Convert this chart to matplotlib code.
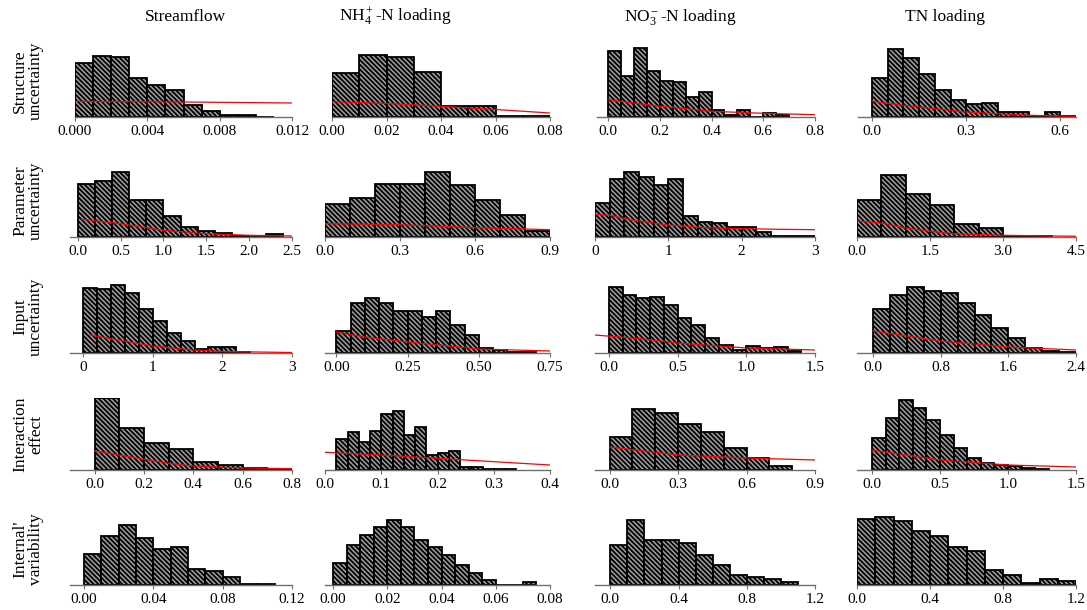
import numpy as np
import matplotlib.pyplot as plt

plt.rcParams['font.family'] = 'Liberation Serif'
plt.rcParams['mathtext.fontset'] = 'custom'
plt.rcParams['mathtext.rm'] = 'Liberation Serif'
plt.rcParams['mathtext.it'] = 'Liberation Serif:italic'
plt.rcParams['mathtext.default'] = 'regular'
plt.rcParams['hatch.linewidth'] = 1.3

col_titles = ['Streamflow', 'NH$_4^+$-N loading', 'NO$_3^-$-N loading', 'TN loading']
row_labels = ['Structure\nuncertainty', 'Parameter\nuncertainty', 'Input\nuncertainty',
              'Interaction\neffect', "Internal'\nvariability"]

# histogram heights (relative frequency), first bin edge and bin width
# row 1: structure uncertainty
sf_struct = [54, 61, 60, 39, 32, 27, 12, 6, 2, 2, 0.4]
nh_struct = [44, 62, 60, 45, 11, 11, 1.3, 0.7]
no_struct = [66, 41, 69, 46, 36, 35, 20, 25, 7, 2.3, 7, 0, 4.3, 1.7]
tn_struct = [39, 68, 59, 43, 27, 17, 13, 14, 5, 5, 0.7, 5, 1.3]
# row 2: parameter uncertainty
sf_param = [53, 56, 65, 37, 37, 21, 10, 6.3, 4.3, 1, 0, 3]
nh_param = [33, 39, 53, 53, 65, 52, 37, 22, 6]
no_param = [34, 58, 65, 60, 52, 58, 21, 15, 14, 10, 10, 5.3, 1.5, 1.5, 1.5]
tn_param = [37, 62, 43, 32, 13, 9, 0.7, 0.7]
# row 3: input uncertainty
sf_input = [65, 64, 68, 60, 44, 32, 20, 12, 4, 6, 6, 1]
nh_input = [22, 50, 55, 50, 42, 42, 36, 42, 28, 18, 5, 3, 1.5, 1.5]
no_input = [66, 58, 55, 56, 48, 35, 28, 15, 8, 3, 7, 5, 6, 2]
tn_input = [44, 58, 66, 62, 60, 50, 38, 25, 15, 5, 2, 1]
# row 4: interaction effect
sf_inter = [72, 42, 27, 21, 8.3, 5, 2, 1]
nh_inter = [31, 38, 28, 39, 56, 59, 35, 43, 15, 17, 19, 3.3, 3.3, 1.3, 1.3, 1.3]
no_inter = [33, 61, 57, 46, 38, 22, 12, 4]
tn_inter = [32, 52, 70, 62, 50, 35, 22, 12, 7, 5, 4, 2, 1]
# row 5: internal variability
sf_intvar = [31, 49, 60, 47, 36, 38, 16, 14, 8.3, 1, 1]
nh_intvar = [22, 40, 50, 58, 65, 58, 45, 38, 30, 20, 12, 5, 0, 0, 3]
no_intvar = [40, 65, 45, 45, 42, 30, 20, 10, 8, 6, 3]
tn_intvar = [66, 68, 64, 54, 49, 38, 34, 15, 10, 2, 6, 4.3]

heights = [[sf_struct, nh_struct, no_struct, tn_struct],
           [sf_param, nh_param, no_param, tn_param],
           [sf_input, nh_input, no_input, tn_input],
           [sf_inter, nh_inter, no_inter, tn_inter],
           [sf_intvar, nh_intvar, no_intvar, tn_intvar]]

bin_start = [[0, 0, 0, 0],
             [0, 0, 0, 0],
             [0, 0, 0, 0],
             [0, 0.02, 0, 0],
             [0, 0, 0, 0]]
bin_width = [[0.001, 0.01, 0.05, 0.05],
             [0.2, 0.1, 0.2, 0.5],
             [0.2, 0.05, 0.1, 0.2],
             [0.1, 0.02, 0.1, 0.1],
             [0.01, 0.005, 0.1, 0.1]]

# fitted curves (red), x and y points
fit_x = [[[0, 0.006, 0.012], [0, 0.02, 0.04, 0.06, 0.08],
          [0, 0.1, 0.2, 0.3, 0.4, 0.5, 0.6, 0.8], [0, 0.1, 0.2, 0.3, 0.4, 0.5, 0.65]],
         [[0.05, 0.5, 1.0, 1.5, 2.0, 2.5], [0, 0.3, 0.6, 0.8, 0.9],
          [0, 0.2, 0.5, 1.0, 1.5, 2.0, 2.5, 3.0], [0, 0.5, 1.0, 1.5, 2.0, 3.0, 4.5]],
         [[0.1, 0.5, 1.0, 1.5, 2.0, 3.0], [0, 0.1, 0.25, 0.5, 0.75],
          [-0.1, 0.25, 0.5, 1.0, 1.5], [0, 0.4, 0.8, 1.6, 2.4]],
         [[0, 0.1, 0.2, 0.3, 0.4, 0.6, 0.8], [0, 0.1, 0.2, 0.3, 0.4],
          [0, 0.3, 0.6, 0.9], [0, 0.25, 0.5, 1.0, 1.5]],
         [[], [], [], []]]
fit_y = [[[15.7, 15, 14], [15.3, 13.5, 10.7, 7.5, 4],
          [17.3, 14, 10.7, 8.3, 5.7, 4.7, 3.7, 2.3], [15.7, 11.7, 8.3, 5, 3.3, 1.7, 0.7]],
         [[17.7, 13.3, 6.7, 3.3, 1.7, 1], [13.3, 12.3, 9.3, 8, 7.3],
          [22.7, 21.7, 17, 12, 9.3, 8.3, 7.7, 7.3], [16, 14, 9, 5.7, 3.3, 1.7, 0.7]],
         [[18, 13, 7, 3.5, 1.5, 0.5], [21, 16, 11, 4, 2],
          [18, 14, 10, 5, 3], [22, 17, 12, 6, 3]],
         [[19, 15, 10.7, 6.7, 4, 2, 1.3], [17.7, 15, 11.7, 8.3, 5],
          [23, 15, 12, 10], [20, 15, 10, 5, 3]],
         [[], [], [], []]]

x_limits = [[(0, 0.012), (0, 0.08), (-0.043, 0.8), (-0.045, 0.65)],
            [(-0.09, 2.5), (0, 0.9), (0, 3.0), (0, 4.5)],
            [(-0.19, 3.0), (-0.04, 0.75), (-0.1, 1.5), (-0.19, 2.4)],
            [(-0.1, 0.8), (0, 0.4), (-0.064, 0.9), (-0.11, 1.5)],
            [(-0.008, 0.12), (-0.003, 0.08), (-0.09, 1.2), (0, 1.2)]]

tick_labels = [[['0.000', '0.004', '0.008', '0.012'], ['0.00', '0.02', '0.04', '0.06', '0.08'],
                ['0.0', '0.2', '0.4', '0.6', '0.8'], ['0.0', '0.3', '0.6']],
               [['0.0', '0.5', '1.0', '1.5', '2.0', '2.5'], ['0.0', '0.3', '0.6', '0.9'],
                ['0', '1', '2', '3'], ['0.0', '1.5', '3.0', '4.5']],
               [['0', '1', '2', '3'], ['0.00', '0.25', '0.50', '0.75'],
                ['0.0', '0.5', '1.0', '1.5'], ['0.0', '0.8', '1.6', '2.4']],
               [['0.0', '0.2', '0.4', '0.6', '0.8'], ['0.0', '0.1', '0.2', '0.3', '0.4'],
                ['0.0', '0.3', '0.6', '0.9'], ['0.0', '0.5', '1.0', '1.5']],
               [['0.00', '0.04', '0.08', '0.12'], ['0.00', '0.02', '0.04', '0.06', '0.08'],
                ['0.0', '0.4', '0.8', '1.2'], ['0.0', '0.4', '0.8', '1.2']]]

W, H = 1087, 610
fig = plt.figure(figsize=(W / 100, H / 100), dpi=100)

col_left = [70, 325, 595, 857]
col_right = [292, 550, 815, 1076]
first_row_left = [75, 332, 597, 858]
title_x = [185, 395, 680, 945]
row_base = [117, 237, 353, 470, 585]
ax_h = 72

for r in range(5):
    for c in range(4):
        left = first_row_left[c] if r == 0 else col_left[c]
        ax = fig.add_axes([left / W, (H - row_base[r]) / H,
                           (col_right[c] - left) / W, ax_h / H])
        h = heights[r][c]
        x0 = bin_start[r][c] + bin_width[r][c] * np.arange(len(h))
        ax.bar(x0, h, width=bin_width[r][c], align='edge', color='#a0a0a0',
               edgecolor='black', linewidth=1.3, hatch='\\' * 7, zorder=2)
        if fit_x[r][c]:
            ax.plot(fit_x[r][c], fit_y[r][c], color='red', lw=0.9, zorder=3)
        ax.set_xlim(*x_limits[r][c])
        ax.set_ylim(0, ax_h)
        ticks = [float(s) for s in tick_labels[r][c]]
        ax.set_xticks(ticks)
        ax.set_xticklabels(tick_labels[r][c], fontsize=11)
        ax.set_yticks([])
        for s in ['top', 'right', 'left']:
            ax.spines[s].set_visible(False)
        ax.spines['bottom'].set_color('#707070')
        ax.spines['bottom'].set_linewidth(1.0)
        ax.tick_params(axis='x', length=3, color='#707070', pad=3)
        ax.patch.set_alpha(0)

for c in range(4):
    fig.text(title_x[c] / W, (H - 17) / H, col_titles[c], ha='center', va='center',
             fontsize=12.5)

for r in range(5):
    fig.text(28 / W, (H - row_base[r] + ax_h / 2) / H, row_labels[r], rotation=90,
             ha='center', va='center', fontsize=12.5, linespacing=1.0)

fig.savefig('out.png', dpi=100)
